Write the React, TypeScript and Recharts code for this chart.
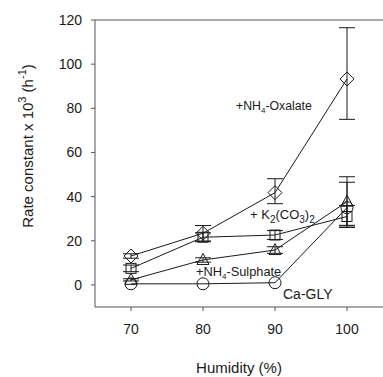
import {
  LineChart,
  Line,
  XAxis,
  YAxis,
  ErrorBar,
  ReferenceLine,
  Customized,
  Label,
} from "recharts";

const humidity = [70, 80, 90, 100];
const oxalate = [13.1, 23.4, 41.8, 93.3];
const oxalateErr = [[1, 1], [3.5, 3.5], [5, 6.3], [18.3, 23.2]];
const carbonate = [7.5, 21.6, 22.6, 31];
const carbonateErr = [[1.5, 1.5], [2, 2], [2, 2], [5, 5]];
const sulphate = [2.3, 11.3, 15.8, 37.7];
const sulphateErr = [[0.5, 0.5], [1, 1], [1.5, 1.5], [11, 11.3]];
const glycine = [0.5, 0.5, 1, 35];
const glycineErr = [null, null, null, [8, 11.5]];

const xTicks = [70, 80, 90, 100];
const yTicks = [0, 20, 40, 60, 80, 100, 120];

const data = humidity.map((h, i) => ({
  h,
  oxalate: oxalate[i],
  oxalateErr: oxalateErr[i],
  carbonate: carbonate[i],
  carbonateErr: carbonateErr[i],
  sulphate: sulphate[i],
  sulphateErr: sulphateErr[i],
  glycine: glycine[i],
  glycineErr: glycineErr[i],
}));

const INK = "#1a1a1a";
const FONT = "'Liberation Sans', Arial, sans-serif";

const Diamond = ({ cx, cy }: any) => (
  <path
    d={`M${cx},${cy - 7}L${cx + 7},${cy}L${cx},${cy + 7}L${cx - 7},${cy}Z`}
    fill="none"
    stroke={INK}
    strokeWidth={1}
  />
);
const Square = ({ cx, cy }: any) => (
  <rect x={cx - 5} y={cy - 5} width={10} height={10} fill="none" stroke={INK} strokeWidth={1} />
);
const Triangle = ({ cx, cy }: any) => (
  <path
    d={`M${cx},${cy - 6.5}L${cx + 6},${cy + 4.5}L${cx - 6},${cy + 4.5}Z`}
    fill="none"
    stroke={INK}
    strokeWidth={1}
  />
);
const Circle = ({ cx, cy }: any) => (
  <circle cx={cx} cy={cy} r={6} fill="none" stroke={INK} strokeWidth={1} />
);

const YLabel = () => (
  <text
    transform="translate(33,146) rotate(-90)"
    textAnchor="middle"
    fontFamily={FONT}
    fontSize={15}
    fill={INK}
  >
    Rate constant x 10
    <tspan dy={-7} fontSize={11}>3</tspan>
    <tspan dy={7}> (h</tspan>
    <tspan dy={-7} fontSize={11}>-1</tspan>
    <tspan dy={7}>)</tspan>
  </text>
);

const SeriesLabels = () => (
  <g fontFamily={FONT} fill={INK} fontSize={12.3}>
    <YLabel />
    <text x={236} y={110}>
      +NH<tspan dy={3} fontSize={8}>4</tspan>
      <tspan dy={-3}>-Oxalate</tspan>
    </text>
    <text x={250} y={219} fontSize={13}>
      + K<tspan dy={4} fontSize={10}>2</tspan>
      <tspan dy={-4}>(CO</tspan>
      <tspan dy={4} fontSize={10}>3</tspan>
      <tspan dy={-4}>)</tspan>
      <tspan dy={4} fontSize={10}>2</tspan>
    </text>
    <text x={196} y={276} fontSize={12.8}>
      +NH<tspan dy={3} fontSize={8}>4</tspan>
      <tspan dy={-3}>-Sulphate</tspan>
    </text>
    <text x={283} y={299} fontSize={14}>Ca-GLY</text>
  </g>
);

export default function App() {
  return (
    <div style={{ position: "absolute", left: 0, top: 0, background: "#fff" }}>
      <LineChart
        width={383}
        height={377}
        data={data}
        margin={{ top: 20, right: 0, bottom: 0, left: 0 }}
      >
        <XAxis
          dataKey="h"
          type="number"
          domain={[65, 105]}
          ticks={xTicks}
          height={70}
          tickSize={4}
          tickMargin={13}
          stroke="#555"
          tick={{ fill: INK, fontSize: 14, fontFamily: FONT }}
        >
          <Label
            value="Humidity (%)"
            position="insideBottom"
            offset={4}
            style={{ fill: INK, fontSize: 15, fontFamily: FONT }}
          />
        </XAxis>
        <YAxis
          type="number"
          domain={[-10, 120]}
          ticks={yTicks}
          width={95}
          tickSize={4}
          tickMargin={9}
          stroke="#555"
          tick={{ fill: INK, fontSize: 14, fontFamily: FONT }}
        />
        <ReferenceLine y={120} stroke="#555" />
        <Line dataKey="glycine" stroke={INK} strokeWidth={1} dot={<Circle />} isAnimationActive={false}>
          <ErrorBar dataKey="glycineErr" direction="y" width={8} stroke={INK} strokeWidth={1} />
        </Line>
        <Line dataKey="sulphate" stroke={INK} strokeWidth={1} dot={<Triangle />} isAnimationActive={false}>
          <ErrorBar dataKey="sulphateErr" direction="y" width={8} stroke={INK} strokeWidth={1} />
        </Line>
        <Line dataKey="carbonate" stroke={INK} strokeWidth={1} dot={<Square />} isAnimationActive={false}>
          <ErrorBar dataKey="carbonateErr" direction="y" width={8} stroke={INK} strokeWidth={1} />
        </Line>
        <Line dataKey="oxalate" stroke={INK} strokeWidth={1} dot={<Diamond />} isAnimationActive={false}>
          <ErrorBar dataKey="oxalateErr" direction="y" width={8} stroke={INK} strokeWidth={1} />
        </Line>
        <Customized component={SeriesLabels} />
      </LineChart>
    </div>
  );
}
